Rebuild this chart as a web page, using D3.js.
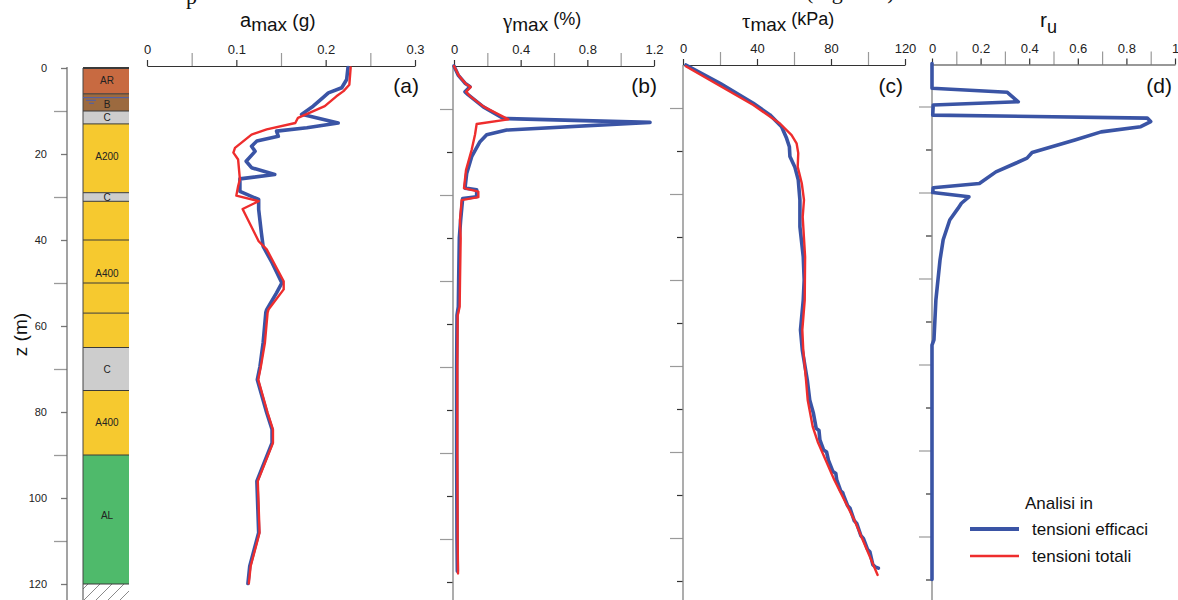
<!DOCTYPE html>
<html><head><meta charset="utf-8">
<script src="https://cdn.jsdelivr.net/npm/d3@7"></script>
<style>body{margin:0;background:#fff;} svg{display:block;font-family:Arial,"Liberation Sans",sans-serif;}</style>
</head><body><svg id="c" width="1178" height="600"></svg>
<script>
// ---------- DATA ----------
const depthMajor = [0, 20, 40, 60, 80, 100, 120];
const depthMinor = [10, 30, 50, 70, 90, 110];
const panelDepthTicksMajor = [20, 40, 60, 80, 100, 120];

const layerNames  = ["AR", "B", "C", "A200", "C", "", "A400", "", "", "C", "A400", "AL"];
const layerTops   = [0, 6, 10, 13, 29, 31, 40, 50, 57, 65, 75, 90];
const layerBots   = [6, 10, 13, 29, 31, 40, 50, 57, 65, 75, 90, 120];
const layerColors = ["#c86a41", "#9c6a3f", "#cdcdcd", "#f6c92f", "#cdcdcd", "#f6c92f", "#f6c92f", "#f6c92f", "#f6c92f", "#cdcdcd", "#f6c92f", "#4fba6b"];
const layerLabelZ = [3, 8.5, 11.6, 20.5, 30, 0, 47.7, 0, 0, 70, 82.5, 104];
const waterTableZ = 6.9;

// panel (a) amax (g)
const aTicksMajor = [0, 0.1, 0.2, 0.3];
const aTicksMinor = [0.05, 0.15, 0.25];
const aEffZ = [0, 2.8, 4.7, 5.9, 7.0, 9.0, 10.9, 12.9, 14.0, 14.8, 16.0, 17.1, 18.3, 19.5, 21.8, 23.3, 24.9, 25.9, 28.8, 30.7, 33.0, 38.4, 41.6, 45.4, 50.1, 52.4, 56.3, 57, 64, 69.5, 72.6, 80.3, 84.2, 87.3, 96.2, 108.2, 116, 120];
const aEffV = [0.225, 0.2235, 0.218, 0.203, 0.197, 0.186, 0.173, 0.214, 0.179, 0.145, 0.147, 0.123, 0.117, 0.121, 0.111, 0.117, 0.143, 0.104, 0.104, 0.125, 0.125, 0.128, 0.130, 0.140, 0.151, 0.145, 0.134, 0.133, 0.130, 0.1265, 0.1235, 0.134, 0.140, 0.140, 0.123, 0.125, 0.115, 0.113];
const aTotZ = [0, 4, 5.5, 6.7, 9, 11.7, 12.9, 14.4, 15.6, 18.7, 19.8, 21.4, 26, 27.6, 29.8, 31.1, 32.9, 40.4, 42.3, 49.7, 51.6, 56.3, 57, 64, 69.5, 72.6, 80.3, 84.2, 87.3, 96.2, 108.2, 116, 120];
const aTotV = [0.228, 0.2265, 0.220, 0.212, 0.199, 0.169, 0.166, 0.134, 0.117, 0.0985, 0.0967, 0.102, 0.104, 0.102, 0.100, 0.125, 0.107, 0.125, 0.134, 0.153, 0.153, 0.136, 0.135, 0.132, 0.1275, 0.1245, 0.135, 0.141, 0.141, 0.124, 0.126, 0.116, 0.114];

// panel (b) gamma max (%)
const bTicksMajor = [0, 0.4, 0.8, 1.2];
const bTicksMinor = [0.2, 0.6, 1.0];
const bEffZ = [0, 2.1, 4.0, 4.8, 6.0, 6.7, 9.5, 12.2, 13.1, 14.9, 16.0, 17.6, 21.1, 25, 28.4, 28.8, 30.4, 30.8, 35.8, 40, 50, 56, 58, 70, 90, 110, 117.5];
const bEffV = [0, 0.025, 0.066, 0.096, 0.066, 0.086, 0.176, 0.296, 1.176, 0.316, 0.196, 0.156, 0.106, 0.076, 0.066, 0.136, 0.136, 0.052, 0.040, 0.032, 0.028, 0.026, 0.018, 0.016, 0.016, 0.018, 0.020];
const bTotZ = [0, 2.3, 4.2, 4.9, 6.0, 7.0, 9.5, 12.4, 13.5, 16.0, 19.5, 24.2, 28.4, 29.2, 30.5, 31.2, 35.8, 40, 50, 56, 58, 70, 90, 110, 118];
const bTotV = [0, 0.03, 0.072, 0.10, 0.072, 0.096, 0.18, 0.326, 0.136, 0.126, 0.106, 0.072, 0.06, 0.146, 0.146, 0.046, 0.036, 0.040, 0.036, 0.034, 0.022, 0.020, 0.020, 0.022, 0.024];

// panel (c) tau max (kPa)
const cTicksMajor = [0, 40, 80, 120];
const cTicksMinor = [20, 60, 100];
const cEffZ = [0, 4.26, 8.9, 11.6, 14.35, 17.05, 19.0, 21.3, 23.8, 26.7, 31.4, 37.6, 44.6, 50, 54.7, 61.6, 66.3, 73.3, 77.9, 81, 84.5, 85, 87.2, 89.5, 90, 91.9, 94.5, 95, 96.5, 99, 99.5, 100, 102.5, 103.1, 106, 106.6, 109.5, 110.1, 112.7, 113.2, 116.2, 116.7, 117];
const cEffV = [1.6, 20, 38, 47, 53.3, 56, 57.5, 57.8, 60.5, 62.3, 63.2, 63.2, 65, 65.5, 65, 63.5, 64.5, 67.2, 68.5, 70.5, 72, 73.5, 74, 76, 77.6, 78.6, 81, 82.6, 83.1, 85.2, 86.4, 86.7, 89, 90.3, 92.6, 93.9, 96.2, 97.5, 99.8, 101, 102.6, 103.8, 105.6];
const cTotZ = [0.3, 9.3, 13.6, 16.3, 18.2, 20.5, 23.7, 27.5, 31.4, 35.3, 44.6, 54.7, 61.6, 66.3, 73.3, 77.9, 84.1, 87.6, 96.5, 105.8, 118.6];
const cTotV = [1.5, 38, 52.4, 58.7, 61.4, 62.3, 62, 64.2, 65.4, 64.7, 66, 65.8, 64.5, 65, 66.5, 67.4, 70.1, 72.8, 81.8, 92.6, 105.2];

// panel (d) r_u
const dTicksMajor = [0, 0.2, 0.4, 0.6, 0.8, 1];
const dTicksMinor = [0.1, 0.3, 0.5, 0.7, 0.9];
const dEffZ = [0, 5.77, 6.7, 8.9, 9.65, 12.0, 12.7, 13.5, 14.7, 15.9, 17.8, 20.7, 22.0, 23.2, 25.2, 27.9, 28.9, 30.0, 31.0, 32.5, 33.7, 36.4, 41.0, 45.7, 55.0, 64.3, 65.5, 120];
const dEffV = [0, 0, 0.31, 0.355, 0.005, 0.003, 0.886, 0.9, 0.859, 0.696, 0.588, 0.412, 0.391, 0.344, 0.263, 0.195, 0.005, 0.003, 0.152, 0.121, 0.107, 0.073, 0.046, 0.033, 0.016, 0.008, 0, 0];

const legendTitle = "Analisi in";
const seriesNames = ["tensioni efficaci", "tensioni totali"];
const seriesColors = ["#3a54a5", "#ee2d2d"];

// ---------- DRAW ----------
const svg = d3.select("#c");
const H = 600;
const PXM = 516; // px for 120 m
const depthY = y0 => d3.scaleLinear().domain([0, 120]).range([y0, y0 + PXM]);

// clipped caption remnants at top
svg.append("text").attr("x", 186).attr("y", 4).attr("font-family", "'Liberation Serif',Times,serif").attr("font-size", 22).attr("fill", "#111").text("p");
svg.append("text").attr("x", 806).attr("y", -1).attr("font-family", "'Liberation Serif',Times,serif").attr("font-size", 22).attr("fill", "#111").text("(Figura 7)");

// --- depth axis + stratigraphy ---
const yD = depthY(68);
const gDepth = svg.append("g").attr("transform", "translate(67,0)");
gDepth.call(d3.axisLeft(yD).tickValues(depthMinor).tickSize(13).tickFormat("").tickSizeOuter(0))
  .call(g => g.select(".domain").remove())
  .call(g => g.selectAll(".tick line").attr("stroke", "#9a9a9a").attr("stroke-width", 1.3));
gDepth.append("g").call(d3.axisLeft(yD).tickValues(depthMajor).tickSize(6).tickPadding(14).tickSizeOuter(0))
  .call(g => g.select(".domain").remove())
  .call(g => g.selectAll(".tick line").attr("stroke", "#777").attr("stroke-width", 1.3))
  .call(g => g.selectAll(".tick text").attr("font-size", 11).attr("fill", "#222").attr("font-family", "Arial,'Liberation Sans',sans-serif"));
gDepth.append("line").attr("x1", 0).attr("x2", 0).attr("y1", yD(0) - 1).attr("y2", H).attr("stroke", "#666").attr("stroke-width", 1.2);

svg.append("text").attr("transform", `translate(27,${yD(62)}) rotate(-90)`).attr("text-anchor", "middle")
  .attr("font-size", 19).attr("fill", "#111").text("z (m)");

const defs = svg.append("defs");
const pat = defs.append("pattern").attr("id", "hatch").attr("patternUnits", "userSpaceOnUse").attr("width", 12).attr("height", 12);
pat.append("path").attr("d", "M0,12 L12,0 M-3,3 L3,-3 M9,15 L15,9").attr("stroke", "#8a8a8a").attr("stroke-width", 1);

const colX0 = 83, colX1 = 129;
svg.append("rect").attr("x", colX0).attr("y", yD(120)).attr("width", colX1 - colX0).attr("height", H - yD(120)).attr("fill", "url(#hatch)");
const lay = svg.append("g");
layerTops.forEach((t, i) => {
  lay.append("rect").attr("x", colX0).attr("y", yD(t)).attr("width", colX1 - colX0).attr("height", yD(layerBots[i]) - yD(t)).attr("fill", layerColors[i]);
});
layerTops.concat([120]).forEach(t => {
  lay.append("line").attr("x1", colX0).attr("x2", colX1).attr("y1", yD(t)).attr("y2", yD(t)).attr("stroke", "#3a3a3a").attr("stroke-width", t === 0 ? 1.8 : 1);
});
lay.append("line").attr("x1", colX0).attr("x2", colX0).attr("y1", yD(0)).attr("y2", H).attr("stroke", "#444").attr("stroke-width", 1);
layerNames.forEach((n, i) => {
  if (!n) return;
  lay.append("text").attr("x", (colX0 + colX1) / 2 + 1).attr("y", yD(layerLabelZ[i])).attr("dy", "0.35em").attr("text-anchor", "middle")
    .attr("font-size", 10).attr("fill", "#222").text(n);
});
lay.append("line").attr("x1", colX0).attr("x2", colX1).attr("y1", yD(waterTableZ)).attr("y2", yD(waterTableZ)).attr("stroke", "#4a5fb0").attr("stroke-width", 1);
lay.append("line").attr("x1", 86).attr("x2", 96).attr("y1", yD(waterTableZ) + 2.6).attr("y2", yD(waterTableZ) + 2.6).attr("stroke", "#4a5fb0").attr("stroke-width", 1);
lay.append("line").attr("x1", 89).attr("x2", 94).attr("y1", yD(waterTableZ) + 5.6).attr("y2", yD(waterTableZ) + 5.6).attr("stroke", "#4a5fb0").attr("stroke-width", 1);

// --- panels ---
const panels = [
  {x0: 147, x1: 415, dom: [0, 0.3], major: aTicksMajor, minor: aTicksMinor, y0: 67.5, axisY: 66, vAxis: false, letter: "(a)", letterX: 419, narrow: false,
   series: [[aEffZ, aEffV], [aTotZ, aTotV]]},
  {x0: 454, x1: 654, dom: [0, 1.2], major: bTicksMajor, minor: bTicksMinor, y0: 66, axisY: 66, vAxis: true, vx: 453, letter: "(b)", letterX: 657, narrow: true,
   series: [[bEffZ, bEffV], [bTotZ, bTotV]]},
  {x0: 683, x1: 905, dom: [0, 120], major: cTicksMajor, minor: cTicksMinor, y0: 65, axisY: 65, vAxis: true, vx: 683, letter: "(c)", letterX: 903, narrow: true,
   series: [[cEffZ, cEffV], [cTotZ, cTotV]]},
  {x0: 932, x1: 1175, dom: [0, 1], major: dTicksMajor, minor: dTicksMinor, y0: 63.5, axisY: 64.5, vAxis: true, vx: 932, letter: "(d)", letterX: 1172, narrow: true,
   series: [[dEffZ, dEffV]]}
];

panels.forEach(p => {
  const x = d3.scaleLinear().domain(p.dom).range([p.x0, p.x1]);
  const y = depthY(p.y0);
  const g = svg.append("g");
  g.append("g").attr("transform", `translate(0,${p.axisY})`)
    .call(d3.axisTop(x).tickValues(p.minor).tickSize(13).tickFormat("").tickSizeOuter(0))
    .call(a => a.select(".domain").remove())
    .call(a => a.selectAll(".tick line").attr("stroke", "#9a9a9a").attr("stroke-width", 1.2));
  g.append("g").attr("transform", `translate(0,${p.axisY})`)
    .call(d3.axisTop(x).tickValues(p.major).tickSize(6).tickPadding(6).tickSizeOuter(0).tickFormat(d3.format("~g")))
    .call(a => a.select(".domain").attr("stroke", "#333").attr("stroke-width", 1.2))
    .call(a => a.selectAll(".tick line").attr("stroke", "#333").attr("stroke-width", 1.2))
    .call(a => a.selectAll(".tick text").attr("font-size", 13).attr("fill", "#222")
      .attr("font-family", p.narrow ? "'Liberation Sans Narrow','Arial Narrow',Arial,sans-serif" : "Arial,'Liberation Sans',sans-serif"));
  if (p.vAxis) {
    const va = g.append("g").attr("transform", `translate(${p.vx},0)`);
    va.call(d3.axisLeft(y).tickValues(depthMinor).tickSize(13).tickFormat("").tickSizeOuter(0))
      .call(a => a.select(".domain").remove())
      .call(a => a.selectAll(".tick line").attr("stroke", "#9a9a9a").attr("stroke-width", 1.2));
    va.append("g").call(d3.axisLeft(y).tickValues(panelDepthTicksMajor).tickSize(6).tickFormat("").tickSizeOuter(0))
      .call(a => a.select(".domain").remove())
      .call(a => a.selectAll(".tick line").attr("stroke", "#333").attr("stroke-width", 1.2));
    va.append("line").attr("x1", 0).attr("x2", 0).attr("y1", p.axisY).attr("y2", H).attr("stroke", "#8a8a8a").attr("stroke-width", 1.4);
  }
  const line = d3.line().x(d => x(d[1])).y(d => y(d[0]));
  p.series.forEach((s, si) => {
    const pts = s[0].map((z, i) => [z, s[1][i]]);
    g.append("path").datum(pts).attr("d", line).attr("fill", "none")
      .attr("stroke", seriesColors[si]).attr("stroke-width", si === 0 ? 3.6 : 2.4)
      .attr("stroke-linejoin", "round").attr("stroke-linecap", "round");
  });
  g.append("text").attr("x", p.letterX).attr("y", 93).attr("text-anchor", "end").attr("font-size", 21).attr("fill", "#111").text(p.letter);
});

// --- titles ---
function title(x, parts) {
  const t = svg.append("text").attr("x", x).attr("y", 0).attr("fill", "#111");
  parts.forEach(pt => {
    t.append("tspan").attr("y", pt.y).attr("font-size", pt.s).attr("font-family", pt.f || "Arial,'Liberation Sans',sans-serif").text(pt.t);
  });
}
title(240, [{t: "a", y: 27, s: 20}, {t: "max", y: 31, s: 19}, {t: "\u00a0(g)", y: 27, s: 19}]);
title(503, [{t: "\u03b3", y: 28, s: 21, f: "'Liberation Serif',Times,serif"}, {t: "max", y: 31, s: 19}, {t: "\u00a0(%)", y: 25, s: 18}]);
title(742, [{t: "\u03c4", y: 28, s: 21, f: "'Liberation Serif',Times,serif"}, {t: "max", y: 31, s: 19}, {t: "\u00a0(kPa)", y: 25, s: 18}]);
title(1040, [{t: "r", y: 27, s: 21}, {t: "u", y: 33, s: 18}]);

// --- legend ---
const lg = svg.append("g");
lg.append("text").attr("x", 1025).attr("y", 509).attr("font-size", 17).attr("fill", "#111").text(legendTitle);
seriesNames.forEach((n, i) => {
  const yy = 529 + i * 27;
  lg.append("line").attr("x1", 970).attr("x2", 1019).attr("y1", yy).attr("y2", yy).attr("stroke", seriesColors[i]).attr("stroke-width", i === 0 ? 4 : 2.6);
  lg.append("text").attr("x", 1032).attr("y", yy + 6).attr("font-size", 17).attr("fill", "#111").text(n);
});
</script>
</body></html>
